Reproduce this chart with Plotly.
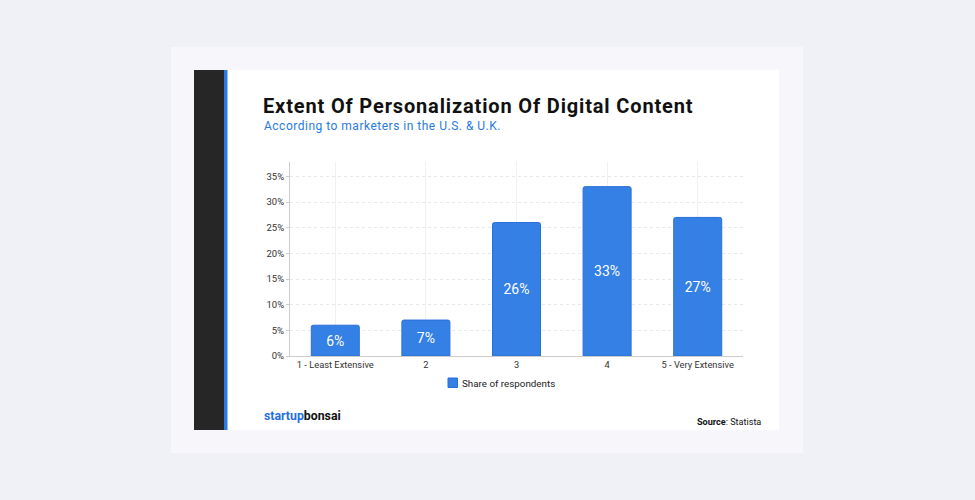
import plotly.graph_objects as go

categories = ["1 - Least Extensive", "2", "3", "4", "5 - Very Extensive"]
shares = [0.06, 0.07, 0.26, 0.33, 0.27]
labels = ["6%", "7%", "26%", "33%", "27%"]
series_name = "Share of respondents"
y_ticks = [0, 0.05, 0.10, 0.15, 0.20, 0.25, 0.30, 0.35]
y_ticktext = ["0%", "5%", "10%", "15%", "20%", "25%", "30%", "35%"]

BAR_COLOR = "#3580e5"
W, H = 975, 500
def px(x): return x / W
def py(y): return 1 - y / H

fig = go.Figure()
fig.add_trace(go.Bar(
    x=categories, y=shares, name=series_name,
    text=labels, textposition="inside", insidetextanchor="middle",
    textfont=dict(family="Roboto", size=14, color="white"),
    marker=dict(color=BAR_COLOR, line=dict(color="#2a6fd9", width=1), cornerradius=2),
    width=0.53, showlegend=False,
))

shapes = [
    dict(type="rect", xref="paper", yref="paper", x0=px(171), x1=px(803), y0=py(453), y1=py(47),
         fillcolor="#f6f6fb", line=dict(width=0), layer="below"),
    dict(type="rect", xref="paper", yref="paper", x0=px(194), x1=px(779), y0=py(430), y1=py(70),
         fillcolor="#ffffff", line=dict(width=0), layer="below"),
    dict(type="rect", xref="paper", yref="paper", x0=px(194), x1=px(224), y0=py(430), y1=py(70),
         fillcolor="#262626", line=dict(width=0), layer="below"),
    dict(type="rect", xref="paper", yref="paper", x0=px(224), x1=px(227.5), y0=py(430), y1=py(70),
         fillcolor="#2a7ae2", line=dict(width=0), layer="below"),
    # legend swatch
    dict(type="rect", xref="paper", yref="paper", x0=px(448), x1=px(457.5), y0=py(387.5), y1=py(378),
         fillcolor=BAR_COLOR, line=dict(color="#2a6fd9", width=1)),
]

annotations = [
    dict(text="<b><span style='letter-spacing:0.85px'>Extent Of Personalization Of Digital Content</span></b>",
         x=px(261), y=py(106),
         xref="paper", yref="paper", xanchor="left", yanchor="middle", showarrow=False,
         font=dict(family="Roboto", size=20, color="#111111")),
    dict(text="<span style='letter-spacing:0.5px'>According to marketers in the U.S. & U.K.</span>",
         x=px(262), y=py(126),
         xref="paper", yref="paper", xanchor="left", yanchor="middle", showarrow=False,
         font=dict(family="Roboto", size=12, color="#2a7ae2")),
    dict(text="<b><span style='color:#1f6fe0'>startup</span><span style='color:#111111'>bonsai</span></b>",
         x=px(262), y=py(416), xref="paper", yref="paper", xanchor="left", yanchor="middle",
         showarrow=False, font=dict(family="Roboto", size=12.3)),
    dict(text="<b>Source</b>: Statista", x=px(763), y=py(422), xref="paper", yref="paper",
         xanchor="right", yanchor="middle", showarrow=False,
         font=dict(family="Roboto", size=9.1, color="#111111")),
    dict(text=series_name, x=px(460), y=py(383), xref="paper", yref="paper",
         xanchor="left", yanchor="middle", showarrow=False,
         font=dict(family="Roboto", size=9.8, color="#222222")),
]

fig.update_layout(
    width=W, height=H,
    paper_bgcolor="#eff1f7", plot_bgcolor="rgba(0,0,0,0)",
    margin=dict(l=0, r=0, t=0, b=0),
    shapes=shapes, annotations=annotations,
    showlegend=False,
    xaxis=dict(domain=[px(290), px(743)], showgrid=True, gridcolor="#f0f0f0", gridwidth=1,
               showline=True, linecolor="#cccccc", linewidth=1, ticks="",
               tickfont=dict(family="Roboto", size=9.3, color="#333333"), automargin=False),
    yaxis=dict(domain=[py(356), py(162)], range=[0, 0.378], tickvals=y_ticks, ticktext=y_ticktext,
               showgrid=True, gridcolor="#e8e8e8", griddash="dot", zeroline=False,
               showline=True, linecolor="#cccccc", linewidth=1, ticks="outside", ticklen=3,
               tickcolor="#cccccc",
               tickfont=dict(family="Roboto", size=9.5, color="#333333"), automargin=False),
    font=dict(family="Roboto"),
)

fig.write_html(
    "out.html",
    config={"displayModeBar": False},
    post_script="document.body.style.margin='0';document.body.style.background='#eff1f7';",
)
